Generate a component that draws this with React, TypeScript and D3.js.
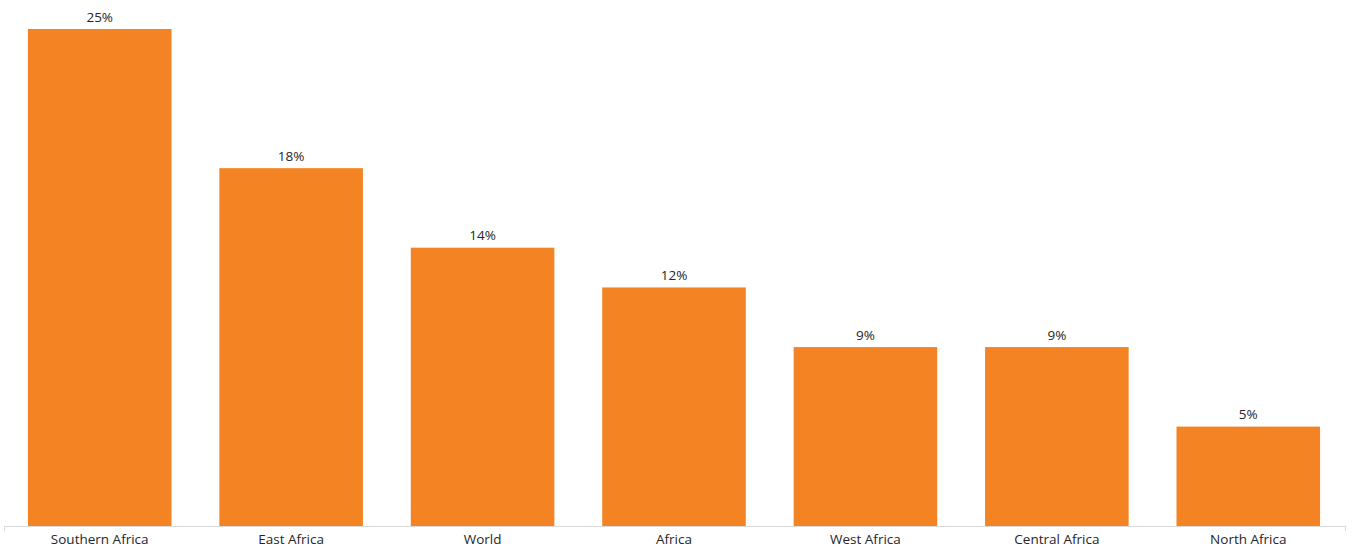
import React from "react";
import * as d3 from "d3";

const categories = ["Southern Africa", "East Africa", "World", "Africa", "West Africa", "Central Africa", "North Africa"];
const values = [25, 18, 14, 12, 9, 9, 5];
const valueLabels = ["25%", "18%", "14%", "12%", "9%", "9%", "5%"];

const W = 1352;
const H = 550;

export default function App() {
  const x = d3.scaleBand<string>().domain(categories).range([4, 1344]).paddingInner(0.25).paddingOuter(0.125);
  const y = d3.scaleLinear().domain([0, 25]).range([526, 29]);
  const font = "'Open Sans', 'Liberation Sans', sans-serif";
  return (
    <svg width={W} height={H} style={{ position: "absolute", left: 0, top: 0, background: "#fff" }}>
      {categories.map((c, i) => (
        <g key={c}>
          <rect x={x(c)!} y={y(values[i])} width={x.bandwidth()} height={y(0) - y(values[i])} fill="#F48423" />
          <text x={x(c)! + x.bandwidth() / 2} y={y(values[i]) - 7.5} textAnchor="middle" fontFamily={font} fontSize={13.5} fill="#262626">
            {valueLabels[i]}
          </text>
          <text x={x(c)! + x.bandwidth() / 2} y={544} textAnchor="middle" fontFamily={font} fontSize={13.5} fill="#262626">
            {c}
          </text>
        </g>
      ))}
      <line x1={4} x2={1346} y1={526.5} y2={526.5} stroke="#d9d9d9" />
      <line x1={4.5} x2={4.5} y1={526} y2={531} stroke="#d9d9d9" />
      <line x1={1345.5} x2={1345.5} y1={526} y2={531} stroke="#d9d9d9" />
    </svg>
  );
}
